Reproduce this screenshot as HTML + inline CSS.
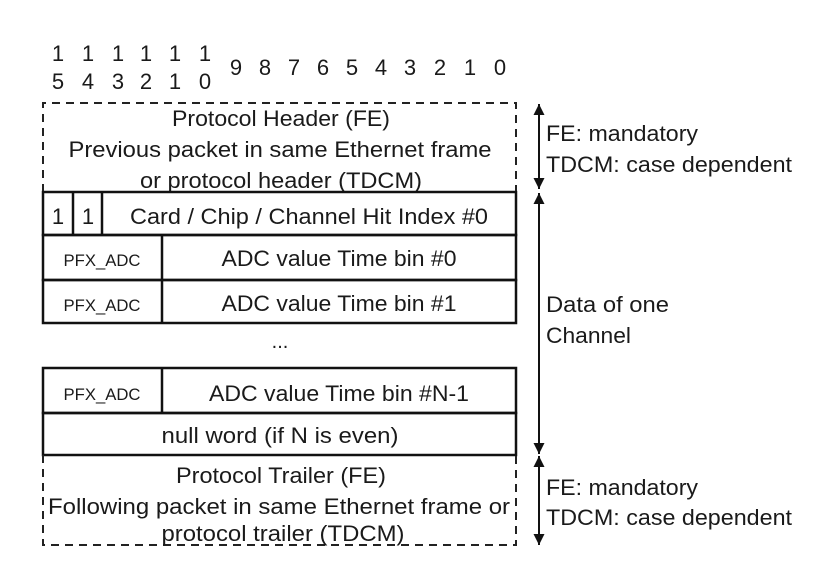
<!DOCTYPE html>
<html><head><meta charset="utf-8"><style>
html,body{margin:0;padding:0;background:#fff;}
svg{display:block;font-family:"Liberation Sans",sans-serif;fill:#111;}
text{fill:#1a1a1a;}
</style></head><body>
<svg width="831" height="576" viewBox="0 0 831 576" xmlns="http://www.w3.org/2000/svg">
<defs>
<marker id="ah" viewBox="0 0 10 10" refX="10" refY="5" markerWidth="13" markerHeight="11" orient="auto-start-reverse" markerUnits="userSpaceOnUse"><path d="M0,0 L10,5 L0,10 z" fill="#111"/></marker>
</defs>
<g font-size="22" text-anchor="middle">
<text x="58" y="61">1</text><text x="88" y="61">1</text><text x="118" y="61">1</text><text x="146" y="61">1</text><text x="175" y="61">1</text><text x="205" y="61">1</text>
<text x="58" y="89">5</text><text x="88" y="89">4</text><text x="118" y="89">3</text><text x="146" y="89">2</text><text x="175" y="89">1</text><text x="205" y="89">0</text>
<text x="236" y="75">9</text><text x="265" y="75">8</text><text x="294" y="75">7</text><text x="323" y="75">6</text><text x="352" y="75">5</text><text x="381" y="75">4</text><text x="410" y="75">3</text><text x="440" y="75">2</text><text x="470" y="75">1</text><text x="500" y="75">0</text>
</g>
<g>
<path d="M43,192 L43,103 L516,103 L516,192" fill="none" stroke="#222" stroke-width="2" stroke-dasharray="8,6"/>
<g font-size="22" text-anchor="middle">
<text x="281" y="126" textLength="218" lengthAdjust="spacingAndGlyphs">Protocol Header (FE)</text>
<text x="280" y="157" textLength="423" lengthAdjust="spacingAndGlyphs">Previous packet in same Ethernet frame</text>
<text x="281" y="188" textLength="282" lengthAdjust="spacingAndGlyphs">or protocol header (TDCM)</text>
</g></g>
<g fill="none" stroke="#111" stroke-width="2.5">
<rect x="43" y="192" width="473" height="43"/>
<line x1="73" y1="192" x2="73" y2="235"/><line x1="102" y1="192" x2="102" y2="235"/>
<rect x="43" y="235" width="473" height="45"/><line x1="162" y1="235" x2="162" y2="323"/>
<rect x="43" y="280" width="473" height="43"/>
<rect x="43" y="368" width="473" height="45"/><line x1="162" y1="368" x2="162" y2="413"/>
<rect x="43" y="413" width="473" height="42"/>
</g>
<g font-size="22" text-anchor="middle">
<text x="58" y="224">1</text>
<text x="88" y="224">1</text>
<text x="309" y="224" textLength="358" lengthAdjust="spacingAndGlyphs">Card / Chip / Channel Hit Index #0</text>
<text x="102" y="266" font-size="17" textLength="77" lengthAdjust="spacingAndGlyphs">PFX_ADC</text>
<text x="339" y="266" textLength="235" lengthAdjust="spacingAndGlyphs">ADC value Time bin #0</text>
<text x="102" y="311" font-size="17" textLength="77" lengthAdjust="spacingAndGlyphs">PFX_ADC</text>
<text x="339" y="311" textLength="235" lengthAdjust="spacingAndGlyphs">ADC value Time bin #1</text>
<text x="280" y="348" font-size="20">...</text>
<text x="102" y="400" font-size="17" textLength="77" lengthAdjust="spacingAndGlyphs">PFX_ADC</text>
<text x="339" y="401" textLength="260" lengthAdjust="spacingAndGlyphs">ADC value Time bin #N-1</text>
<text x="280" y="443" textLength="237" lengthAdjust="spacingAndGlyphs">null word (if N is even)</text>
</g>
<g>
<path d="M43,455 L43,545 L516,545 L516,455" fill="none" stroke="#222" stroke-width="2" stroke-dasharray="8,6"/>
<g font-size="22" text-anchor="middle">
<text x="281" y="483" textLength="210" lengthAdjust="spacingAndGlyphs">Protocol Trailer (FE)</text>
<text x="279" y="514" textLength="462" lengthAdjust="spacingAndGlyphs">Following packet in same Ethernet frame or</text>
<text x="283" y="541" textLength="243" lengthAdjust="spacingAndGlyphs">protocol trailer (TDCM)</text>
</g></g>
<g stroke="#111" stroke-width="2">
<line x1="539" y1="104" x2="539" y2="189" marker-start="url(#ah)" marker-end="url(#ah)"/>
<line x1="539" y1="193" x2="539" y2="454" marker-start="url(#ah)" marker-end="url(#ah)"/>
<line x1="539" y1="456" x2="539" y2="545" marker-start="url(#ah)" marker-end="url(#ah)"/>
</g>
<g font-size="22">
<text x="546" y="141" textLength="152" lengthAdjust="spacingAndGlyphs">FE: mandatory</text>
<text x="546" y="172" textLength="246" lengthAdjust="spacingAndGlyphs">TDCM: case dependent</text>
<text x="546" y="312" textLength="123" lengthAdjust="spacingAndGlyphs">Data of one</text>
<text x="546" y="343" textLength="85" lengthAdjust="spacingAndGlyphs">Channel</text>
<text x="546" y="495" textLength="152" lengthAdjust="spacingAndGlyphs">FE: mandatory</text>
<text x="546" y="525" textLength="246" lengthAdjust="spacingAndGlyphs">TDCM: case dependent</text>
</g>
</svg>
</body></html>
